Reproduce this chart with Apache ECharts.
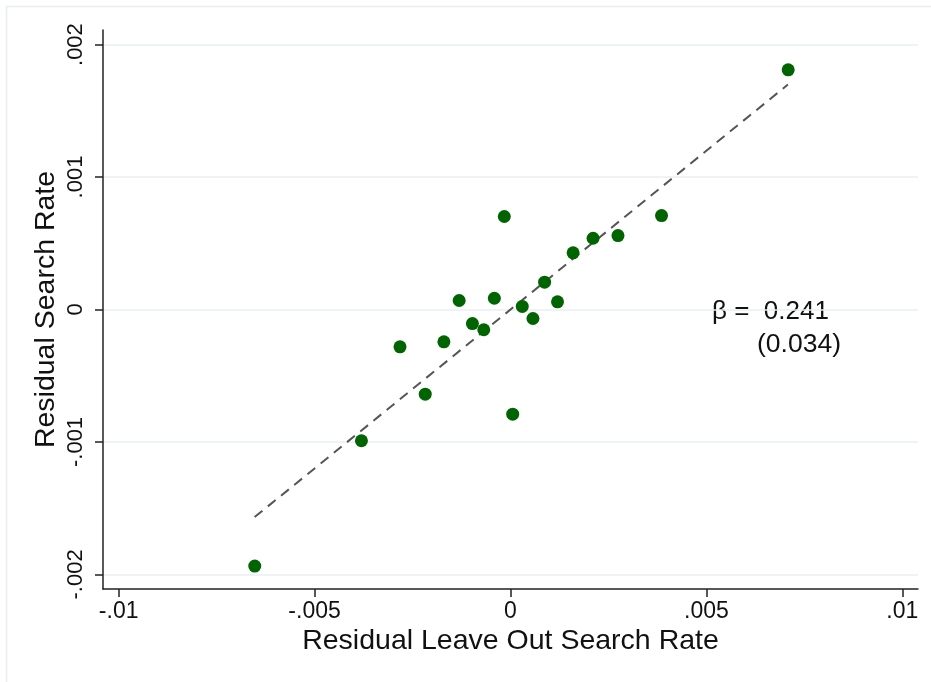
<!DOCTYPE html>
<html>
<head>
<meta charset="utf-8">
<script src="https://cdn.jsdelivr.net/npm/echarts@6/dist/echarts.min.js"></script>
<style>html,body{margin:0;padding:0;background:#fff;}#c{width:931px;height:682px;}</style>
</head>
<body>
<div id="c"></div>
<script>
// Data
const residLeaveOut = [-0.006527, -0.003804, -0.00282, -0.002176, -0.0017, -0.00131, -0.000972, -0.000682, -0.000412, -0.000158, 0.000056, 0.0003, 0.000573, 0.00087, 0.0012, 0.001598, 0.002107, 0.002743, 0.003855, 0.007087];
const residSearch  = [-0.001937, -0.000991, -0.000282, -0.000639, -0.000244, 0.000068, -0.000106, -0.000153, 0.000085, 0.000702, -0.00079, 0.000023, -0.000068, 0.000206, 0.000058, 0.000428, 0.000538, 0.000558, 0.000709, 0.001809];
const fitX = [-0.00653, 0.00708];
const fitY = [-0.001567, 0.001698];
const xTicks = [-0.01, -0.005, 0, 0.005, 0.01];
const yTicks = [-0.002, -0.001, 0, 0.001, 0.002];
const betaText = 'β =  0.241';
const seText = '(0.034)';

function fmt(v){
  if (Math.abs(v) < 1e-12) return '0';
  let s = String(+v.toFixed(6));
  s = s.replace('0.', '.');
  return s;
}

const chart = echarts.init(document.getElementById('c'), null, {renderer:'canvas'});
const FONT = 'Liberation Sans, Arial, Helvetica, sans-serif';
chart.setOption({
  animation: false,
  backgroundColor: '#fff',
  grid: {left: 103, top: 30, right: 13, bottom: 93, containLabel: false},
  xAxis: {
    type: 'value', min: -0.0104, max: 0.0104,
    name: 'Residual Leave Out Search Rate', nameLocation: 'middle', nameGap: 38, nameMoveOverlap: false,
    nameTextStyle: {fontFamily: FONT, fontSize: 28.5, color: '#111'},
    axisLine: {show: true, onZero: false, lineStyle: {color: '#222', width: 1.5}},
    axisTick: {show: true, length: 8, inside: false, customValues: xTicks, lineStyle: {color: '#222', width: 1.5}},
    axisLabel: {customValues: xTicks, formatter: fmt, margin: 11, fontFamily: FONT, fontSize: 23, color: '#111'},
    splitLine: {show: false}
  },
  yAxis: {
    type: 'value', min: -0.00211, max: 0.00211,
    name: 'Residual Search Rate', nameLocation: 'middle', nameGap: 42, nameRotate: 90, nameMoveOverlap: false,
    nameTextStyle: {fontFamily: FONT, fontSize: 28.5, color: '#111'},
    axisLine: {show: true, onZero: false, lineStyle: {color: '#222', width: 1.5}},
    axisTick: {show: true, length: 8, customValues: yTicks, lineStyle: {color: '#222', width: 1.5}},
    axisLabel: {customValues: yTicks, formatter: fmt, rotate: 90, margin: 16, fontFamily: FONT, fontSize: 22, color: '#111'},
    splitLine: {show: true, customValues: yTicks, lineStyle: {color: '#e8f0f2', width: 1.5}}
  },
  series: [
    {
      type: 'line', data: fitX.map((x,i)=>[x, fitY[i]]), symbol: 'none', silent: true, z: 2,
      lineStyle: {color: '#555', width: 2, type: [10, 7]}
    },
    {
      type: 'scatter', data: residLeaveOut.map((x,i)=>[x, residSearch[i]]), symbol: 'circle', symbolSize: 13, z: 3,
      itemStyle: {color: '#006400', opacity: 1}
    }
  ],
  graphic: [
    {type: 'rect', shape: {x: 6.5, y: 6.5, width: 940, height: 700}, style: {fill: 'none', stroke: '#e6eef0', lineWidth: 1.5}, z: -10, silent: true},
    {type: 'text', left: 712, top: 299, style: {text: betaText, font: '26px ' + FONT, fill: '#111'}},
    {type: 'text', left: 757, top: 331, style: {text: seText, font: '26.5px ' + FONT, fill: '#111'}}
  ]
});
</script>
</body>
</html>
